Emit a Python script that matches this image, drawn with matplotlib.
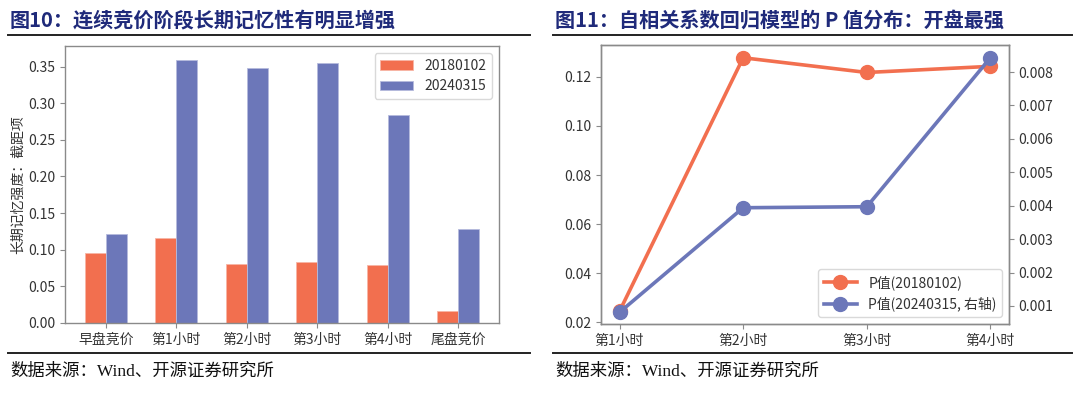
import numpy as np
import matplotlib
matplotlib.use("Agg")
import matplotlib.pyplot as plt
from matplotlib.lines import Line2D

plt.rcParams['font.family'] = ['Noto Sans CJK SC', 'DejaVu Sans']
plt.rcParams['axes.unicode_minus'] = False

# left chart data
cats_left = ['早盘竞价', '第1小时', '第2小时', '第3小时', '第4小时', '尾盘竞价']
mem_2018 = [0.0955, 0.116, 0.0805, 0.0836, 0.079, 0.0168]
mem_2024 = [0.121, 0.3595, 0.348, 0.3545, 0.2845, 0.128]

# right chart data
cats_right = ['第1小时', '第2小时', '第3小时', '第4小时']
p_2018 = [0.0245, 0.1278, 0.1218, 0.1243]
p_2024 = [0.00081, 0.00394, 0.00397, 0.00843]

c_orange = '#F26F4F'
c_blue = '#6C77B9'
navy = '#1F2A7A'
spine_c = '#8A8A8A'
tick_c = '#333333'

W, H = 1080, 397
fig = plt.figure(figsize=(W / 100, H / 100), dpi=100)


def box(x0, y0, x1, y1):
    return [x0 / W, 1 - y1 / H, (x1 - x0) / W, (y1 - y0) / H]


def style(ax):
    for s in ax.spines.values():
        s.set_color(spine_c)
        s.set_linewidth(1.0)
    ax.tick_params(colors=tick_c, labelsize=10, length=3.5, width=0.8)
    ax.tick_params(axis='both', color=spine_c)


# ---- left panel
ax1 = fig.add_axes(box(65, 46, 499, 323))
x = np.arange(len(cats_left))
w = 0.3
ax1.bar(x - w / 2, mem_2018, w, color=c_orange, edgecolor='#F7B5A5', linewidth=0.6, label='20180102')
ax1.bar(x + w / 2, mem_2024, w, color=c_blue, edgecolor='#B5BBDD', linewidth=0.6, label='20240315')
ax1.set_xticks(x)
ax1.set_xticklabels(cats_left)
ax1.set_yticks(np.arange(0, 0.351, 0.05))
ax1.set_yticklabels(['%.2f' % v for v in np.arange(0, 0.351, 0.05)])
ax1.set_ylim(0, 0.378)
ax1.set_ylabel('长期记忆强度：截距项', fontsize=10, color=tick_c, labelpad=2)
style(ax1)
leg1 = ax1.legend(loc='upper right', fontsize=10, frameon=True, fancybox=True,
                  borderpad=0.4, handlelength=2.4)
leg1.get_frame().set_edgecolor('#D0D0D0')
for t in leg1.get_texts():
    t.set_color(tick_c)

# ---- right panel
ax2 = fig.add_axes(box(601, 45, 1009, 324))
xr = np.arange(len(cats_right))
l1, = ax2.plot(xr, p_2018, color=c_orange, lw=2.6, marker='o', ms=10, label='P值(20180102)')
ax2.set_xticks(xr)
ax2.set_xticklabels(cats_right)
ax2.set_yticks(np.arange(0.02, 0.121, 0.02))
ax2.set_yticklabels(['%.2f' % v for v in np.arange(0.02, 0.121, 0.02)])
ax2.set_ylim(0.0193, 0.1330)
style(ax2)

ax3 = ax2.twinx()
l2, = ax3.plot(xr, p_2024, color=c_blue, lw=2.6, marker='o', ms=10, label='P值(20240315, 右轴)')
ax3.set_yticks(np.arange(0.001, 0.0081, 0.001))
ax3.set_yticklabels(['%.3f' % v for v in np.arange(0.001, 0.0081, 0.001)])
ax3.set_ylim(0.00046, 0.00881)
style(ax3)
leg2 = ax3.legend([l1, l2], [l1.get_label(), l2.get_label()], loc='lower right',
                  fontsize=10, frameon=True, borderpad=0.4, handlelength=2.4)
leg2.get_frame().set_edgecolor('#D0D0D0')
for t in leg2.get_texts():
    t.set_color(tick_c)

# ---- titles, rules and sources
fig.text(10 / W, 1 - 20 / H, '图10：连续竞价阶段长期记忆性有明显增强', fontsize=14.5,
         fontweight='bold', color=navy, va='center', ha='left')
fig.text(555 / W, 1 - 20 / H, '图11：自相关系数回归模型的 P 值分布：开盘最强', fontsize=14.5,
         fontweight='bold', color=navy, va='center', ha='left')

for (a, b) in [(8, 530), (553, 1072)]:
    fig.add_artist(Line2D([a / W, b / W], [1 - 35 / H, 1 - 35 / H], color='#222222', lw=1.4,
                          transform=fig.transFigure))
    fig.add_artist(Line2D([a / W, b / W], [1 - 353 / H, 1 - 353 / H], color='#222222', lw=1.4,
                          transform=fig.transFigure))

src_font = ['Liberation Serif', 'Noto Sans CJK SC']
fig.text(10 / W, 1 - 372 / H, '数据来源：Wind、开源证券研究所', fontsize=12.5,
         family=src_font, color='#111111', va='center', ha='left')
fig.text(555 / W, 1 - 372 / H, '数据来源：Wind、开源证券研究所', fontsize=12.5,
         family=src_font, color='#111111', va='center', ha='left')

fig.savefig('out.png', dpi=100, facecolor='white')
